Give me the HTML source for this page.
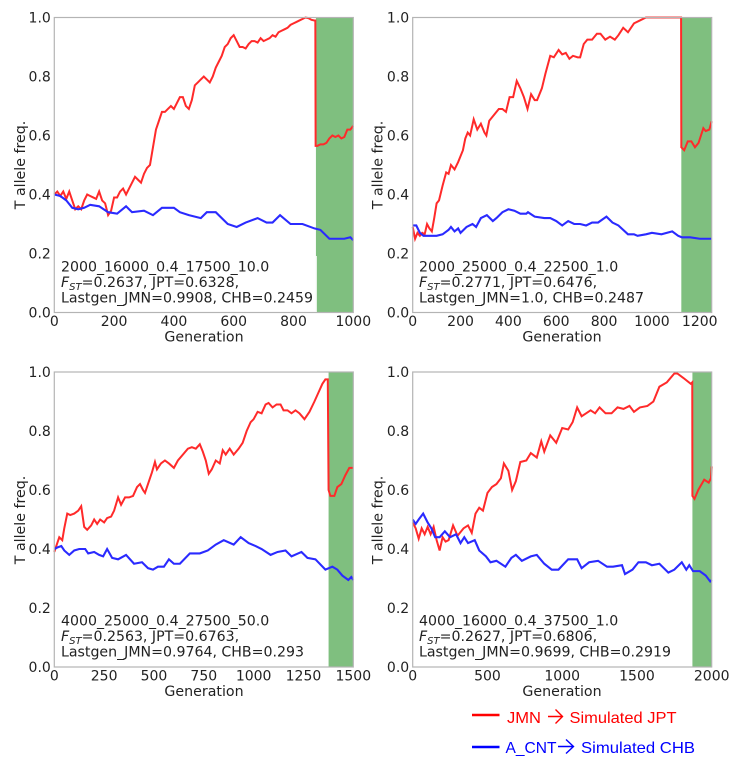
<!DOCTYPE html>
<html lang="en">
<head>
<meta charset="utf-8">
<title>T allele frequency simulations</title>
<style>
html,body{margin:0;padding:0;background:#fff;width:739px;height:763px;overflow:hidden}
svg{display:block;filter:blur(.35px)}
text{font-family:"DejaVu Sans","Liberation Sans",sans-serif;fill:#222}
.ann{font-size:14.15px}
.axt{font-size:14.2px}
.lg{font-family:"Liberation Sans",sans-serif;font-size:16px}
</style>
</head>
<body>
<svg id="fig" xmlns="http://www.w3.org/2000/svg" width="739" height="763" viewBox="0 0 739 763">
  <g id="panel-0">
    <g class="plot"></g>
    <rect x="315.7" y="256" width="1.1" height="56" fill="#ffffff"/>
    <text class="axt" transform="translate(25,165) rotate(-90)" text-anchor="middle">T allele freq.</text>
    <text class="axt" x="204" y="341.5" text-anchor="middle">Generation</text>
    <text class="ann" x="61" y="271.5">2000_16000_0.4_17500_10.0</text>
    <text class="ann" x="61" y="287"><tspan font-style="italic">F</tspan><tspan font-style="italic" font-size="10" dy="3">ST</tspan><tspan dy="-3">=0.2637, JPT=0.6328,</tspan></text>
    <text class="ann" x="61" y="302.5">Lastgen_JMN=0.9908, CHB=0.2459</text>
  </g>
  <g id="panel-1">
    <g class="plot"></g>
    <text class="axt" transform="translate(382.5,165) rotate(-90)" text-anchor="middle">T allele freq.</text>
    <text class="axt" x="562" y="341.5" text-anchor="middle">Generation</text>
    <text class="ann" x="419" y="271.5">2000_25000_0.4_22500_1.0</text>
    <text class="ann" x="419" y="287"><tspan font-style="italic">F</tspan><tspan font-style="italic" font-size="10" dy="3">ST</tspan><tspan dy="-3">=0.2771, JPT=0.6476,</tspan></text>
    <text class="ann" x="419" y="302.5">Lastgen_JMN=1.0, CHB=0.2487</text>
  </g>
  <g id="panel-2">
    <g class="plot"></g>
    <text class="axt" transform="translate(25,520) rotate(-90)" text-anchor="middle">T allele freq.</text>
    <text class="axt" x="204" y="696" text-anchor="middle">Generation</text>
    <text class="ann" x="61" y="625.5">4000_25000_0.4_27500_50.0</text>
    <text class="ann" x="61" y="641"><tspan font-style="italic">F</tspan><tspan font-style="italic" font-size="10" dy="3">ST</tspan><tspan dy="-3">=0.2563, JPT=0.6763,</tspan></text>
    <text class="ann" x="61" y="656.5">Lastgen_JMN=0.9764, CHB=0.293</text>
  </g>
  <g id="panel-3">
    <g class="plot"></g>
    <text class="axt" transform="translate(382.5,520) rotate(-90)" text-anchor="middle">T allele freq.</text>
    <text class="axt" x="562" y="696" text-anchor="middle">Generation</text>
    <text class="ann" x="419" y="625.5">4000_16000_0.4_37500_1.0</text>
    <text class="ann" x="419" y="641"><tspan font-style="italic">F</tspan><tspan font-style="italic" font-size="10" dy="3">ST</tspan><tspan dy="-3">=0.2627, JPT=0.6806,</tspan></text>
    <text class="ann" x="419" y="656.5">Lastgen_JMN=0.9699, CHB=0.2919</text>
  </g>
  <g>
    <g>
      <line x1="472" y1="715" x2="499.5" y2="715" stroke="#ff0000" stroke-width="2.4"/>
      <text class="lg" x="507" y="723" style="fill:#ff0000" textLength="34" lengthAdjust="spacingAndGlyphs">JMN</text>
      <path d="M548 716.5H562M555.5 709.5L562.5 716.5L555.5 723.5" fill="none" stroke="#ff0000" stroke-width="1.4"/>
      <text class="lg" x="569.5" y="723" style="fill:#ff0000" textLength="107" lengthAdjust="spacingAndGlyphs">Simulated JPT</text>
    </g>
    <g>
      <line x1="472" y1="747" x2="499.5" y2="747" stroke="#0000ff" stroke-width="2.4"/>
      <text class="lg" x="505.5" y="753" style="fill:#0000ff" textLength="51" lengthAdjust="spacingAndGlyphs">A_CNT</text>
      <path d="M558 746.5H573M566 739.5L573.5 746.5L566 753.5" fill="none" stroke="#0000ff" stroke-width="1.4"/>
      <text class="lg" x="581" y="753" style="fill:#0000ff" textLength="114" lengthAdjust="spacingAndGlyphs">Simulated CHB</text>
    </g>
  </g>
</svg>
<script>
// Panel 1: 2000_16000_0.4_17500_10.0
const p1Ticks = [0, 200, 400, 600, 800, 1000];
const p1Shade = 875;
const p1RedGen = [
  0,10,20,30,40,50,60,70,80,90,
  100,110,120,130,140,150,160,170,180,190,
  200,210,220,230,240,250,260,270,280,290,
  300,310,320,330,340,350,360,370,380,390,
  400,410,420,430,440,450,460,470,480,490,
  500,510,520,530,540,550,560,570,580,590,
  600,610,620,630,640,650,660,670,680,690,
  700,710,720,730,740,750,760,770,780,790,
  800,810,820,830,840,850,860,870,
  873,874,
  880,890,900,910,920,930,940,950,960,970,980,990,1000];
const p1Red = [
  .40,.41,.395,.41,.385,.41,.38,.35,.36,.35,
  .38,.40,.395,.39,.385,.41,.38,.37,.33,.345,
  .39,.39,.41,.42,.40,.42,.44,.46,.45,.44,
  .47,.49,.50,.56,.62,.65,.68,.68,.69,.70,
  .69,.71,.73,.73,.70,.69,.72,.77,.78,.79,
  .80,.79,.78,.80,.83,.85,.87,.90,.91,.93,
  .94,.92,.90,.90,.895,.91,.92,.92,.915,.93,
  .92,.925,.93,.94,.935,.95,.955,.96,.965,.975,
  .98,.985,.99,.995,1.0,.998,.992,.99,
  .99,.565,
  .565,.57,.57,.575,.59,.60,.595,.60,.59,.595,.62,.62,.633];
const p1BlueGen = [0,20,40,60,80,100,120,150,180,210,240,260,300,330,360,400,420,450,490,510,540,580,610,640,680,710,730,755,790,830,870,890,920,970,990,1000];
const p1Blue = [.40,.395,.38,.355,.35,.355,.365,.36,.34,.335,.36,.34,.345,.33,.355,.355,.34,.33,.32,.34,.34,.30,.29,.305,.32,.305,.305,.33,.30,.30,.285,.28,.25,.25,.255,.245];

// Panel 2: 2000_25000_0.4_22500_1.0
const p2Ticks = [0, 200, 400, 600, 800, 1000, 1200];
const p2Shade = 1123;
const p2RedGen = [
  0,10,20,30,40,50,60,70,80,90,
  100,110,125,140,150,160,175,190,200,210,
  220,230,240,255,270,285,300,308,320,340,
  360,375,390,405,420,435,450,465,480,495,
  510,520,540,555,575,590,610,625,640,655,
  670,690,700,715,730,750,770,785,805,825,
  845,860,880,900,925,950,975,1000,1122,1123,
  1135,1150,1165,1180,1195,1215,1225,1240,1250];
const p2Red = [
  .29,.25,.27,.26,.27,.265,.30,.285,.275,.32,
  .37,.38,.43,.475,.47,.50,.485,.51,.53,.55,
  .59,.61,.60,.655,.62,.64,.61,.60,.65,.67,
  .69,.69,.68,.73,.73,.785,.76,.73,.69,.74,
  .72,.72,.76,.81,.87,.865,.89,.875,.88,.86,
  .87,.865,.865,.91,.925,.925,.945,.945,.925,.935,
  .925,.94,.965,.95,.98,.99,1,1,1,.56,
  .55,.58,.58,.56,.575,.625,.615,.62,.648];
const p2BlueGen = [0,15,30,45,75,100,125,150,160,175,190,200,225,250,265,285,310,335,350,375,400,425,450,475,482,510,550,575,600,625,650,675,700,725,750,775,810,835,860,880,900,925,940,975,1000,1040,1085,1110,1125,1160,1200,1250];
const p2Blue = [.295,.295,.27,.26,.26,.26,.265,.28,.29,.275,.285,.27,.29,.30,.29,.32,.33,.31,.32,.34,.35,.345,.335,.335,.34,.325,.32,.32,.31,.295,.31,.30,.30,.295,.305,.305,.325,.305,.295,.28,.265,.265,.26,.265,.27,.265,.275,.26,.255,.255,.25,.25];

// Panel 3: 4000_25000_0.4_27500_50.0
const p3Ticks = [0, 250, 500, 750, 1000, 1250, 1500];
const p3Shade = 1376;
const p3RedGen = [
  0,15,25,40,50,65,80,100,120,135,
  150,165,185,200,215,230,250,265,285,300,
  320,335,355,375,395,415,430,445,455,470,
  490,505,515,535,555,575,600,620,645,670,
  690,710,730,745,760,775,790,810,830,845,
  860,880,900,925,945,965,985,1000,1020,1040,
  1060,1075,1095,1115,1135,1150,1170,1190,1210,1230,
  1255,1280,1305,1325,1345,1360,1372,1376,1385,1405,
  1420,1440,1460,1480,1500];
const p3Red = [
  .39,.42,.44,.43,.47,.52,.515,.52,.53,.545,
  .475,.465,.48,.50,.485,.50,.49,.505,.51,.53,
  .575,.55,.575,.575,.58,.61,.62,.60,.59,.62,
  .66,.695,.67,.69,.70,.69,.675,.70,.72,.74,
  .745,.74,.755,.73,.70,.655,.67,.70,.69,.735,
  .72,.74,.72,.74,.76,.80,.83,.84,.865,.86,
  .89,.895,.88,.89,.89,.87,.87,.86,.87,.86,
  .84,.865,.90,.93,.96,.975,.975,.60,.58,.58,
  .61,.62,.65,.675,.675];
const p3BlueGen = [0,15,35,50,75,100,125,155,170,200,225,245,265,290,320,360,400,440,470,495,520,550,575,600,630,680,730,770,810,850,900,935,975,1010,1040,1085,1120,1160,1190,1240,1270,1310,1360,1395,1420,1445,1475,1490,1500];
const p3Blue = [.40,.405,.41,.395,.38,.395,.40,.40,.385,.39,.38,.375,.40,.37,.365,.38,.35,.355,.335,.33,.34,.34,.365,.35,.35,.385,.385,.395,.415,.43,.415,.44,.42,.41,.40,.38,.39,.395,.375,.39,.37,.365,.33,.34,.33,.31,.295,.305,.295];

// Panel 4: 4000_16000_0.4_37500_1.0
const p4Ticks = [0, 500, 1000, 1500, 2000];
const p4Shade = 1871;
const p4RedGen = [
  0,20,40,60,80,100,120,140,160,180,
  200,220,240,270,300,340,370,395,420,445,
  470,500,530,560,590,610,640,665,690,720,
  760,790,830,860,880,920,960,1000,1040,1070,
  1100,1130,1160,1190,1220,1250,1290,1330,1370,1410,
  1450,1480,1520,1570,1610,1650,1700,1750,1770,1810,
  1860,1870,1871,1885,1910,1950,1980,1995,2000];
const p4Red = [
  .49,.47,.435,.47,.45,.475,.45,.475,.43,.395,
  .44,.425,.43,.48,.445,.47,.48,.455,.52,.54,
  .53,.59,.61,.62,.64,.69,.665,.60,.63,.695,
  .70,.725,.71,.765,.73,.785,.76,.81,.805,.83,
  .88,.85,.86,.87,.86,.88,.86,.86,.88,.875,
  .885,.865,.88,.885,.90,.95,.965,.995,.995,.98,
  .96,.965,.58,.57,.60,.635,.625,.64,.68];
const p4BlueGen = [0,20,40,70,100,125,150,180,215,250,290,320,345,370,415,445,490,520,560,620,660,690,730,790,830,880,930,975,1040,1100,1130,1180,1240,1300,1340,1400,1420,1470,1510,1560,1600,1650,1710,1750,1800,1830,1850,1875,1920,1960,1990,2000];
const p4Blue = [.50,.485,.50,.52,.49,.47,.44,.44,.46,.44,.45,.42,.44,.42,.43,.395,.375,.355,.36,.34,.37,.38,.36,.375,.38,.35,.33,.33,.365,.365,.335,.355,.36,.34,.34,.345,.315,.33,.355,.355,.345,.35,.32,.33,.355,.33,.345,.325,.325,.31,.29,.295];

const yTicks = [0, 0.2, 0.4, 0.6, 0.8, 1.0];

const SVGNS = 'http://www.w3.org/2000/svg';

function drawPanel(index, left, top, xMax, ticks, shadeStart, redGen, red, blueGen, blue) {
  const width = 299;
  const height = 295;
  const xScale = function (g) { return left + g / xMax * width; };
  const yScale = function (v) { return top + height - v * height; };
  const plot = document.querySelector('#panel-' + index + ' .plot');

  const shade = document.createElementNS(SVGNS, 'rect');
  
  
  shade.setAttribute('x', xScale(shadeStart));
  shade.setAttribute('y', yScale(1));
  shade.setAttribute('width', xScale(xMax) - xScale(shadeStart));
  shade.setAttribute('height', height);
  shade.setAttribute('fill', '#7fbf7f');
  plot.appendChild(shade);

  const redLine = document.createElementNS(SVGNS, 'polyline');
  
  
  redLine.setAttribute('points', redGen.map(function (g, i) { return xScale(g).toFixed(2) + ',' + yScale(red[i]).toFixed(2); }).join(' '));
  redLine.setAttribute('fill', 'none');
  redLine.setAttribute('stroke', '#ff2a2a');
  redLine.setAttribute('stroke-width', '2');
  plot.appendChild(redLine);

  const blueLine = document.createElementNS(SVGNS, 'polyline');
  
  
  blueLine.setAttribute('points', blueGen.map(function (g, i) { return xScale(g).toFixed(2) + ',' + yScale(blue[i]).toFixed(2); }).join(' '));
  blueLine.setAttribute('fill', 'none');
  blueLine.setAttribute('stroke', '#2a2aff');
  blueLine.setAttribute('stroke-width', '2.1');
  plot.appendChild(blueLine);

  const frame = document.createElementNS(SVGNS, 'rect');
  
  
  frame.setAttribute('x', left);
  frame.setAttribute('y', top);
  frame.setAttribute('width', width);
  frame.setAttribute('height', height);
  frame.setAttribute('fill', 'none');
  frame.setAttribute('stroke', '#b4b4b4');
  frame.setAttribute('stroke-width', '1.2');
  plot.appendChild(frame);

  ticks.forEach(function (t) {
    const label = document.createElementNS(SVGNS, 'text');
    
    
    label.setAttribute('x', xScale(t));
    label.setAttribute('y', top + height + 13.5);
    label.setAttribute('text-anchor', 'middle');
    label.setAttribute('font-size', '14');
    label.textContent = String(t);
    plot.appendChild(label);
  });

  yTicks.forEach(function (t) {
    const label = document.createElementNS(SVGNS, 'text');
    
    
    label.setAttribute('x', left - 3.5);
    label.setAttribute('y', yScale(t) + 5);
    label.setAttribute('text-anchor', 'end');
    label.setAttribute('font-size', '14');
    label.textContent = t.toFixed(1);
    plot.appendChild(label);
  });
}

drawPanel(0, 54.3, 17.5, 1000, p1Ticks, p1Shade, p1RedGen, p1Red, p1BlueGen, p1Blue);
drawPanel(1, 412.7, 17.5, 1250, p2Ticks, p2Shade, p2RedGen, p2Red, p2BlueGen, p2Blue);
drawPanel(2, 54.3, 372, 1500, p3Ticks, p3Shade, p3RedGen, p3Red, p3BlueGen, p3Blue);
drawPanel(3, 412.7, 372, 2000, p4Ticks, p4Shade, p4RedGen, p4Red, p4BlueGen, p4Blue);
</script>
</body>
</html>
